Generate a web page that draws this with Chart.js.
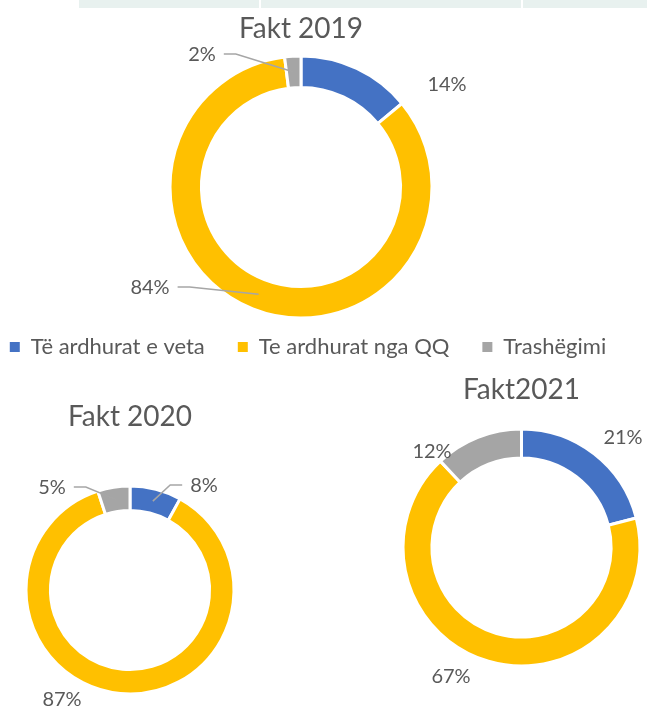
<!DOCTYPE html>
<html>
<head>
<meta charset="utf-8">
<script src="https://cdn.jsdelivr.net/npm/chart.js@4.4.1/dist/chart.umd.min.js"></script>
<style>
  html, body { margin: 0; padding: 0; background: #fff; }
  body { width: 647px; height: 710px; position: relative; overflow: hidden; }
  canvas { position: absolute; }
  .cell { position: absolute; top: 0; height: 8px; background: #e8f1ef; }
</style>
</head>
<body>
<div class="cell" style="left:79px;width:180px"></div>
<div class="cell" style="left:261px;width:260px"></div>
<div class="cell" style="left:523px;width:124px"></div>

<canvas id="c2019" width="647" height="710" style="left:0;top:0"></canvas>
<canvas id="c2020" width="647" height="710" style="left:0;top:0"></canvas>
<canvas id="c2021" width="647" height="710" style="left:0;top:0"></canvas>
<canvas id="legend" width="700" height="200" style="left:-42px;top:300px"></canvas>

<script>
var categories = ["Të ardhurat e veta", "Te ardhurat nga QQ", "Trashëgimi"];
var titles = ["Fakt 2019", "Fakt 2020", "Fakt2021"];
var fakt2019 = [14, 84, 2];
var fakt2020 = [8, 87, 5];
var fakt2021 = [21, 67, 12];
var colors = ["#4472C4", "#FFC000", "#A5A5A5"];

var FONT = "Lato, 'Open Sans', sans-serif";
var TEXT = "#595959";
var BORDER = 3;

// percentage labels with Excel-style leader lines
var pctLabels = {
    id: "pctLabels",
    afterDatasetsDraw: function (chart, args, opts) {
        var ctx = chart.ctx;
        var meta = chart.getDatasetMeta(0);
        var data = chart.data.datasets[0].data;
        var total = data.reduce(function (a, b) { return a + b; }, 0);
        ctx.save();
        ctx.font = opts.size + "px " + FONT;
        ctx.fillStyle = TEXT;
        ctx.textAlign = "center";
        ctx.textBaseline = "middle";
        meta.data.forEach(function (arc, i) {
            var p = arc.getProps(["x", "y", "startAngle", "endAngle", "innerRadius", "outerRadius"], true);
            var spot = opts.spots[i];
            var txt = Math.round(data[i] / total * 100) + "%";
            var lx = p.x + spot[0], ly = p.y + spot[1];
            ctx.fillText(txt, lx, ly);
            if (spot[2]) {
                var mid = (p.startAngle + p.endAngle) / 2;
                var rr = (p.innerRadius + p.outerRadius) / 2;
                var ex = p.x + Math.cos(mid) * rr, ey = p.y + Math.sin(mid) * rr;
                var w = ctx.measureText(txt).width;
                var dir = ex > lx ? 1 : -1;
                var sx = lx + dir * (w / 2 + 8);
                ctx.beginPath();
                ctx.strokeStyle = "#A6A6A6";
                ctx.lineWidth = 1.5;
                ctx.moveTo(sx, ly - 1);
                ctx.lineTo(sx + dir * 12, ly - 1);
                ctx.lineTo(ex, ey);
                ctx.stroke();
            }
        });
        ctx.restore();
    }
};

function ring(id, title, values, geo) {
    var S = 2 * geo.r + 2 * BORDER;
    var L = geo.titleSize * 1.2;
    var left = geo.cx - S / 2, top = geo.cy - S / 2;
    return new Chart(document.getElementById(id), {
        type: "doughnut",
        data: {
            labels: categories,
            datasets: [{
                data: values,
                backgroundColor: colors,
                borderColor: "#ffffff",
                borderWidth: BORDER
            }]
        },
        options: {
            responsive: false,
            animation: false,
            cutout: geo.cutout,
            layout: {
                padding: { left: left, right: 647 - left - S, top: 0, bottom: 710 - top - S }
            },
            plugins: {
                legend: { display: false },
                tooltip: { enabled: false },
                title: {
                    display: true,
                    text: title,
                    fullSize: false,
                    color: TEXT,
                    font: { family: FONT, size: geo.titleSize, weight: "normal", lineHeight: 1.2 },
                    padding: { top: geo.titleY - L / 2, bottom: top - geo.titleY - L / 2 }
                },
                pctLabels: { size: 20, spots: geo.spots }
            }
        },
        plugins: [pctLabels]
    });
}

ring("c2019", titles[0], fakt2019, {
    cx: 301, cy: 187, r: 129.5, cutout: "76%", titleSize: 28, titleY: 29,
    spots: [[146, -102, false], [-151, 101, true], [-99, -132, true]]
});
ring("c2020", titles[1], fakt2020, {
    cx: 130, cy: 590, r: 102.5, cutout: "76.5%", titleSize: 28, titleY: 417,
    spots: [[74, -104, true], [-68, 110, false], [-78, -102, true]]
});
ring("c2021", titles[2], fakt2021, {
    cx: 521.5, cy: 547.5, r: 117, cutout: "75.6%", titleSize: 28, titleY: 390,
    spots: [[101.5, -109.5, false], [-70.5, 129.5, false], [-89.5, -95.5, false]]
});

// shared legend, drawn by a chart whose ring has zero sweep
new Chart(document.getElementById("legend"), {
    type: "doughnut",
    data: {
        labels: categories,
        datasets: [{ data: fakt2019, backgroundColor: colors, borderWidth: 0 }]
    },
    options: {
        responsive: false,
        animation: false,
        circumference: 0,
        layout: { padding: { top: 3 } },
        plugins: {
            tooltip: { enabled: false },
            legend: {
                position: "top",
                labels: {
                    color: TEXT,
                    boxWidth: 10,
                    boxHeight: 10,
                    padding: 33,
                    font: { family: FONT, size: 22 }
                }
            }
        }
    }
});
</script>
</body>
</html>
